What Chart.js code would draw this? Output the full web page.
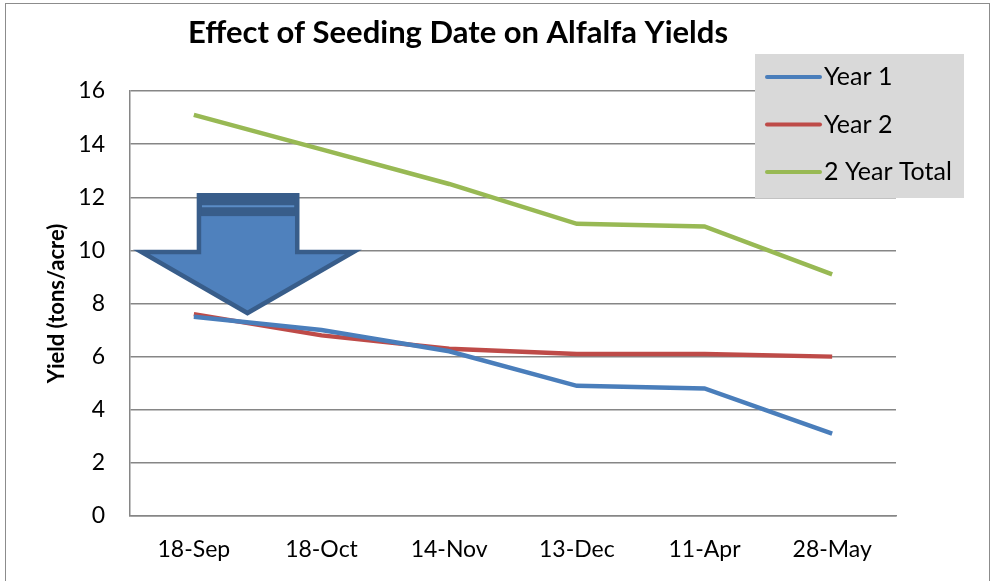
<!DOCTYPE html>
<html>
<head>
<meta charset="utf-8">
<script src="https://cdn.jsdelivr.net/npm/chart.js@4"></script>
<style>
  body { margin: 0; background: #fff; }
</style>
</head>
<body>
<canvas id="grafico" width="992" height="581"></canvas>
<script>
const seedingDates = ['18-Sep', '18-Oct', '14-Nov', '13-Dec', '11-Apr', '28-May'];
const year1 = [7.5, 7.0, 6.2, 4.9, 4.8, 3.1];
const year2 = [7.6, 6.8, 6.3, 6.1, 6.1, 6.0];
const twoYearTotal = [15.1, 13.8, 12.5, 11.0, 10.9, 9.1];
const yTicks = [0, 2, 4, 6, 8, 10, 12, 14, 16];

// arrow outline in data units (category index, yield)
const arrowShape = [
    [0.04, 12.08], [0.81, 12.08], [0.81, 9.94], [1.25, 9.94],
    [0.42, 7.64], [-0.41, 9.94], [0.04, 9.94]
];
const arrowBandBottom = 11.29;
const arrowBandLine = 11.66;

const FONT = 'Lato, "Open Sans", sans-serif';

const cornice = {
    id: 'cornice',
    beforeDraw(chart) {
        const c = chart.ctx;
        c.save();
        c.fillStyle = '#fff';
        c.fillRect(0, 0, chart.width, chart.height);
        c.strokeStyle = '#8c8c8c';
        c.lineWidth = 1;
        c.strokeRect(5.5, 3.5, 984, 600);
        c.fillStyle = '#000';
        c.font = 'bold 31px ' + FONT;
        c.textAlign = 'center';
        c.textBaseline = 'middle';
        c.fillText('Effect of Seeding Date on Alfalfa Yields', 458, 33);
        c.restore();
    }
};

const freccia = {
    id: 'freccia',
    afterDatasetsDraw(chart) {
        const x = chart.scales.x, y = chart.scales.y, c = chart.ctx;
        const pts = arrowShape.map(p => [x.getPixelForValue(p[0]), y.getPixelForValue(p[1])]);
        c.save();
        c.beginPath();
        pts.forEach((p, i) => i ? c.lineTo(p[0], p[1]) : c.moveTo(p[0], p[1]));
        c.closePath();
        c.fillStyle = '#4f81bd';
        c.fill();
        // dark band at top of the shaft
        const left = pts[0][0], right = pts[1][0], top = pts[0][1];
        const bandY = y.getPixelForValue(arrowBandBottom);
        c.fillStyle = '#385d8a';
        c.fillRect(left, top, right - left, bandY - top);
        c.strokeStyle = '#5a8cc6';
        c.lineWidth = 2;
        c.beginPath();
        const lineY = y.getPixelForValue(arrowBandLine);
        c.moveTo(left + 3, lineY);
        c.lineTo(right - 3, lineY);
        c.stroke();
        c.beginPath();
        pts.forEach((p, i) => i ? c.lineTo(p[0], p[1]) : c.moveTo(p[0], p[1]));
        c.closePath();
        c.strokeStyle = '#385d8a';
        c.lineWidth = 4.5;
        c.lineJoin = 'miter';
        c.stroke();
        c.restore();
    }
};

const legenda = {
    id: 'legenda',
    afterDraw(chart) {
        const c = chart.ctx;
        c.save();
        c.fillStyle = '#d9d9d9';
        c.fillRect(755, 54, 209, 144);
        c.font = '25px ' + FONT;
        c.textBaseline = 'middle';
        c.textAlign = 'left';
        chart.data.datasets.forEach((ds, i) => {
            const yy = 77 + i * 47.5;
            c.strokeStyle = ds.borderColor;
            c.lineWidth = 4;
            c.lineCap = 'round';
            c.beginPath();
            c.moveTo(767, yy);
            c.lineTo(820, yy);
            c.stroke();
            c.fillStyle = '#000';
            c.fillText(ds.label, 824, yy);
        });
        c.restore();
    }
};

new Chart(document.getElementById('grafico'), {
    type: 'line',
    data: {
        labels: seedingDates,
        datasets: [
            { label: 'Year 1', data: year1, borderColor: '#4a7ebb', backgroundColor: '#4a7ebb' },
            { label: 'Year 2', data: year2, borderColor: '#be4b48', backgroundColor: '#be4b48' },
            { label: '2 Year Total', data: twoYearTotal, borderColor: '#98b954', backgroundColor: '#98b954' }
        ]
    },
    options: {
        responsive: false,
        animation: false,
        devicePixelRatio: 1,
        layout: { padding: { top: 91, left: 0, right: 96, bottom: 0 } },
        elements: {
            line: { borderWidth: 4.5, tension: 0, borderCapStyle: 'butt' },
            point: { radius: 0 }
        },
        scales: {
            x: {
                offset: true,
                grid: { display: false, drawTicks: false },
                border: { display: true, color: '#868686', width: 1.5 },
                ticks: { color: '#000', font: { family: FONT, size: 23 }, padding: 20, maxRotation: 0 },
                afterFit(s) { s.height = 65; }
            },
            y: {
                min: 0,
                max: 16,
                afterBuildTicks(s) { s.ticks = yTicks.map(v => ({ value: v })); },
                grid: { color: '#868686', lineWidth: 1.5, drawTicks: false },
                border: { display: true, color: '#868686', width: 1.5 },
                ticks: { color: '#000', font: { family: FONT, size: 23 }, padding: 25 },
                title: {
                    display: true,
                    text: 'Yield (tons/acre)',
                    color: '#000',
                    font: { family: FONT, size: 22, weight: 'bold' },
                    padding: { top: 44, bottom: 0 }
                },
                afterFit(s) { s.width = 130; }
            }
        },
        plugins: {
            legend: { display: false },
            title: { display: false },
            tooltip: { enabled: false }
        }
    },
    plugins: [cornice, freccia, legenda]
});
</script>
</body>
</html>
